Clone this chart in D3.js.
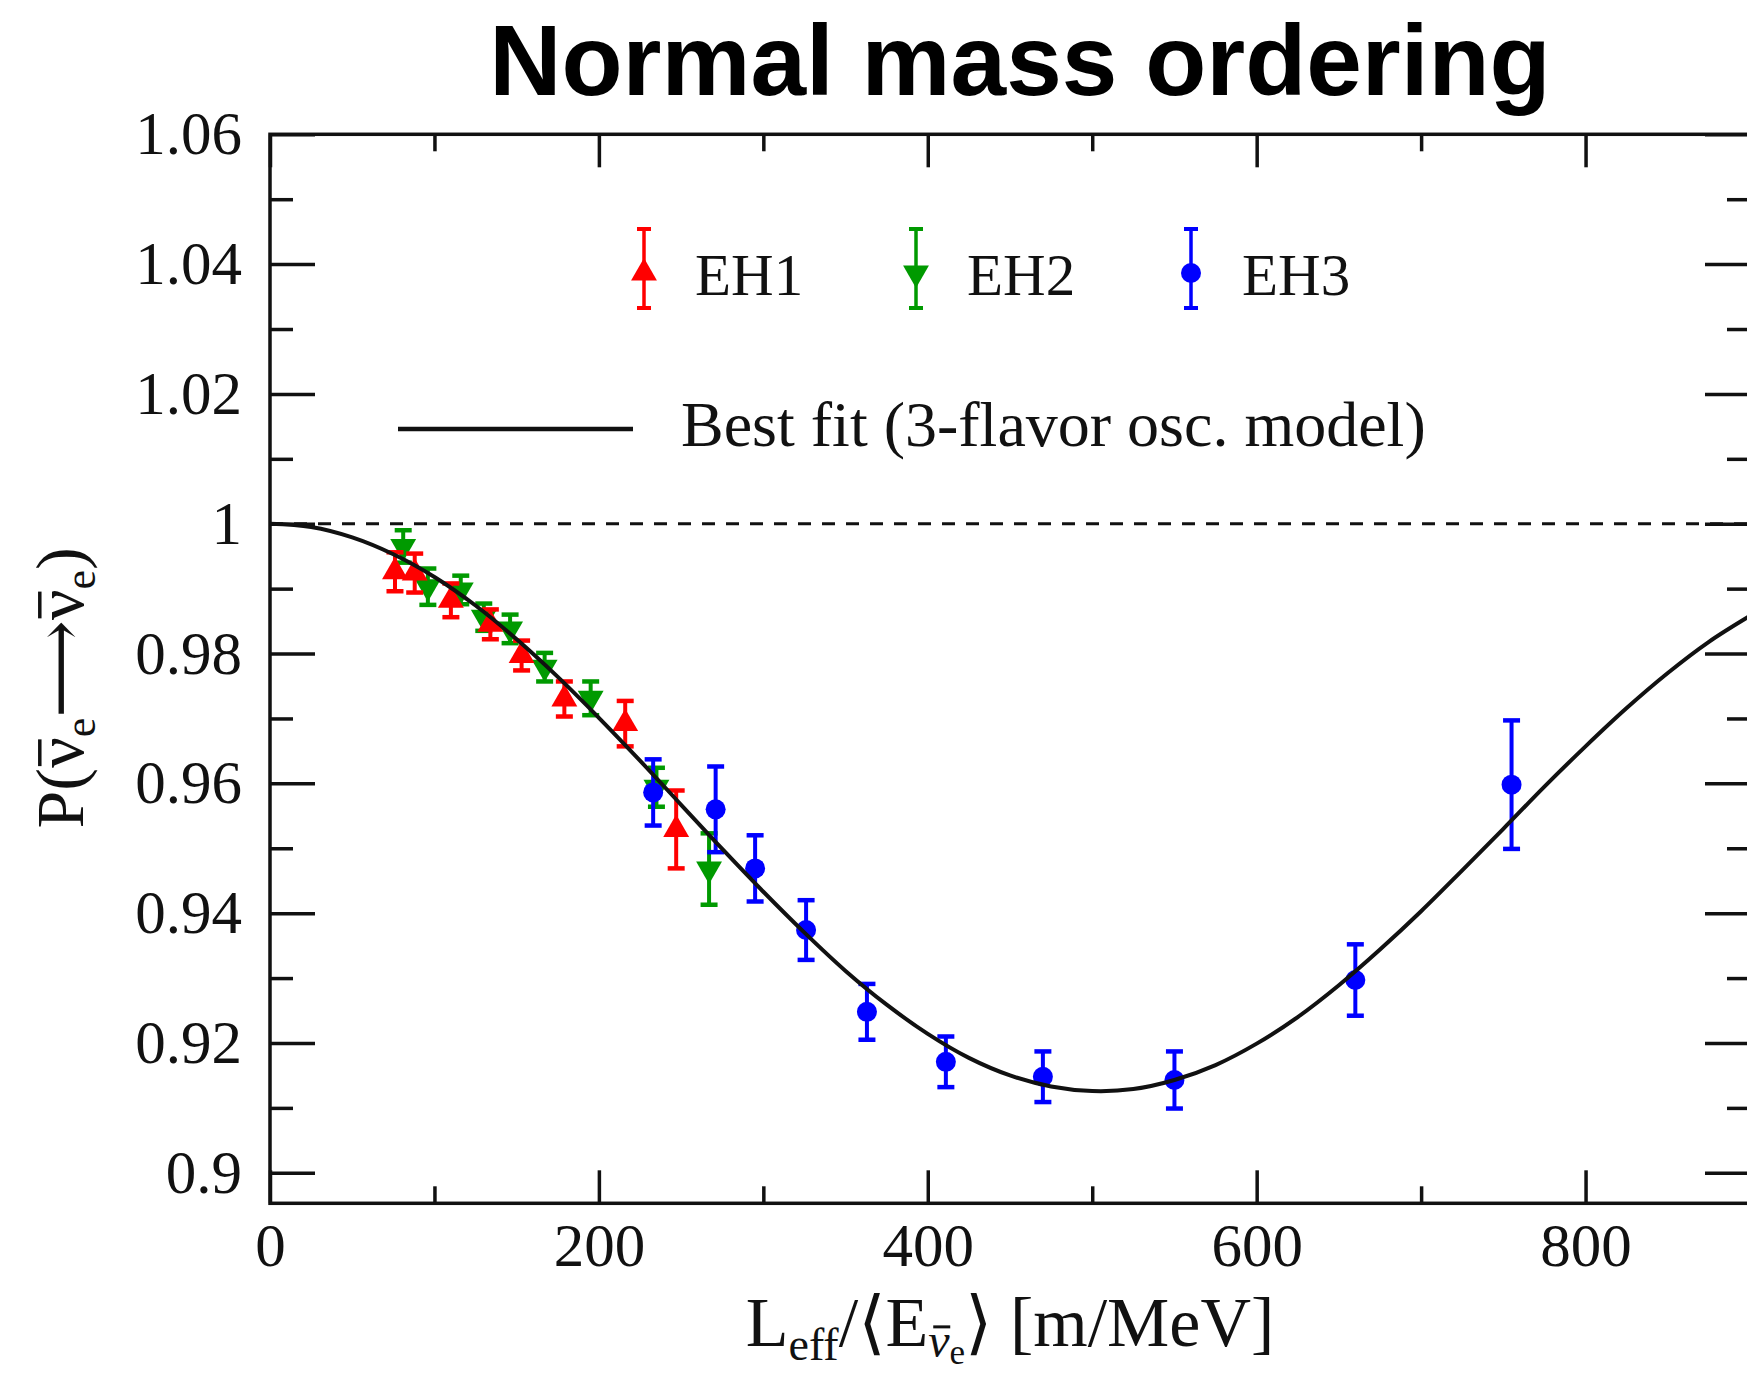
<!DOCTYPE html>
<html>
<head>
<meta charset="utf-8">
<script src="https://d3js.org/d3.v7.min.js"></script>
<style>
  body { margin: 0; background: #fff; }
  svg text { font-family: "Liberation Serif", "DejaVu Serif", serif; fill: #111; }
</style>
</head>
<body>
<script>

// EH1 (red, up triangles)
var eh1X = [76, 88, 110, 134, 153, 179, 216, 247];
var eh1Y = [0.9926, 0.9924, 0.9882, 0.9845, 0.9797, 0.9730, 0.9692, 0.9529];
var eh1Err = [0.0030, 0.0030, 0.0026, 0.0023, 0.0023, 0.0027, 0.0035, 0.0060];

// EH2 (green, down triangles)
var eh2X = [81, 96, 116, 130, 146, 167, 195, 235, 267];
var eh2Y = [0.9965, 0.9903, 0.9898, 0.9856, 0.9838, 0.9779, 0.9731, 0.9594, 0.9468];
var eh2Err = [0.0025, 0.0028, 0.0022, 0.0021, 0.0022, 0.0022, 0.0026, 0.0030, 0.0055];

// EH3 (blue, circles)
var eh3X = [233, 271, 295, 326, 363, 411, 470, 550, 660, 755];
var eh3Y = [0.9586, 0.9560, 0.9469, 0.9374, 0.9248, 0.9171, 0.9148, 0.9143, 0.9297, 0.9598];
var eh3Err = [0.0051, 0.0066, 0.0051, 0.0046, 0.0043, 0.0039, 0.0039, 0.0044, 0.0055, 0.0099];

// best fit curve
var fitX = [0, 25, 50, 75, 100, 125, 150, 175, 200, 225, 250, 275, 300, 325, 350, 375, 400, 425,
  450, 475, 500, 525, 550, 575, 600, 625, 650, 675, 700, 725, 750, 775, 800, 825, 850, 875, 900];
var fitY = [1.0000, 0.9995, 0.9979, 0.9953, 0.9918, 0.9874, 0.9822, 0.9764, 0.9701, 0.9635, 0.9567,
  0.9499, 0.9433, 0.9370, 0.9311, 0.9259, 0.9214, 0.9177, 0.9150, 0.9133, 0.9126, 0.9129, 0.9143,
  0.9166, 0.9199, 0.9240, 0.9289, 0.9344, 0.9403, 0.9466, 0.9530, 0.9595, 0.9657, 0.9716, 0.9770,
  0.9818, 0.9858];

var xMajor = [0, 200, 400, 600, 800];
var xMinor = [100, 300, 500, 700, 900];
var yMajor = [0.9, 0.92, 0.94, 0.96, 0.98, 1, 1.02, 1.04, 1.06];
var yMinor = [0.91, 0.93, 0.95, 0.97, 0.99, 1.01, 1.03, 1.05];
var yTickLabels = ["0.9", "0.92", "0.94", "0.96", "0.98", "1", "1.02", "1.04", "1.06"];

var plotL = 270, plotR = 1750, plotT = 134.3, plotB = 1203.3;

var svg = d3.select("body").append("svg")
  .attr("width", 1747)
  .attr("height", 1375);

var x = d3.scaleLinear().domain([0, 900]).range([plotL, plotR]);
var y = d3.scaleLinear().domain([0.8953, 1.06]).range([plotB, plotT]);

function styleAxis(g) {
  g.select(".domain").remove();
  g.selectAll("line").attr("stroke", "#111").attr("stroke-width", 3.5);
  g.selectAll("text").attr("font-size", 61).attr("fill", "#111")
    .attr("font-family", "Liberation Serif");
}

// ticks, all pointing inward
svg.append("g").attr("transform", "translate(0," + plotB + ")")
  .call(d3.axisBottom(x).tickValues(xMajor).tickSize(-33).tickPadding(19).tickFormat(d3.format("d")))
  .call(styleAxis);
svg.append("g").attr("transform", "translate(0," + plotB + ")")
  .call(d3.axisBottom(x).tickValues(xMinor).tickSize(-17).tickFormat(""))
  .call(styleAxis);
svg.append("g").attr("transform", "translate(0," + plotT + ")")
  .call(d3.axisTop(x).tickValues(xMajor).tickSize(-33).tickFormat(""))
  .call(styleAxis);
svg.append("g").attr("transform", "translate(0," + plotT + ")")
  .call(d3.axisTop(x).tickValues(xMinor).tickSize(-17).tickFormat(""))
  .call(styleAxis);
svg.append("g").attr("transform", "translate(" + plotL + ",0)")
  .call(d3.axisLeft(y).tickValues(yMajor).tickSize(-45).tickPadding(28)
    .tickFormat(function(d, i) { return yTickLabels[i]; }))
  .call(styleAxis);
svg.append("g").attr("transform", "translate(" + plotL + ",0)")
  .call(d3.axisLeft(y).tickValues(yMinor).tickSize(-23).tickFormat(""))
  .call(styleAxis);
svg.append("g").attr("transform", "translate(" + plotR + ",0)")
  .call(d3.axisRight(y).tickValues(yMajor).tickSize(-45).tickFormat(""))
  .call(styleAxis);
svg.append("g").attr("transform", "translate(" + plotR + ",0)")
  .call(d3.axisRight(y).tickValues(yMinor).tickSize(-23).tickFormat(""))
  .call(styleAxis);

svg.append("rect")
  .attr("x", plotL).attr("y", plotT)
  .attr("width", plotR - plotL).attr("height", plotB - plotT)
  .attr("fill", "none").attr("stroke", "#111").attr("stroke-width", 3.5);

// no-oscillation line
svg.append("line")
  .attr("x1", x(0)).attr("x2", x(900))
  .attr("y1", y(1)).attr("y2", y(1))
  .attr("stroke", "#111").attr("stroke-width", 3)
  .attr("stroke-dasharray", "13,11");

var series = [
  { name: "EH2", color: "#009a00", shape: "down", xs: eh2X, ys: eh2Y, errs: eh2Err, lx: 916 },
  { name: "EH1", color: "#ff0000", shape: "up", xs: eh1X, ys: eh1Y, errs: eh1Err, lx: 644 },
  { name: "EH3", color: "#0000ff", shape: "circle", xs: eh3X, ys: eh3Y, errs: eh3Err, lx: 1191 }
];

var tri = d3.symbol().type(d3.symbolTriangle).size(290);

function marker(g, s) {
  if (s.shape === "circle") {
    g.append("circle").attr("r", 10).attr("fill", s.color);
  } else {
    g.append("path").attr("d", tri)
      .attr("transform", s.shape === "down" ? "rotate(180)" : null)
      .attr("fill", s.color);
  }
}

series.forEach(function(s) {
  var pts = s.xs.map(function(v, i) { return { x: v, y: s.ys[i], e: s.errs[i] }; });
  var g = svg.append("g").selectAll("g").data(pts).enter().append("g");
  g.append("line")
    .attr("x1", function(d) { return x(d.x); }).attr("x2", function(d) { return x(d.x); })
    .attr("y1", function(d) { return y(d.y - d.e); }).attr("y2", function(d) { return y(d.y + d.e); })
    .attr("stroke", s.color).attr("stroke-width", 4);
  [-1, 1].forEach(function(sign) {
    g.append("line")
      .attr("x1", function(d) { return x(d.x) - 8.5; }).attr("x2", function(d) { return x(d.x) + 8.5; })
      .attr("y1", function(d) { return y(d.y + sign * d.e); }).attr("y2", function(d) { return y(d.y + sign * d.e); })
      .attr("stroke", s.color).attr("stroke-width", 4.5);
  });
  g.append("g")
    .attr("transform", function(d) { return "translate(" + x(d.x) + "," + y(d.y) + ")"; })
    .each(function() { marker(d3.select(this), s); });

  // legend entry
  var lg = svg.append("g").attr("transform", "translate(" + s.lx + ",0)");
  lg.append("line").attr("x1", 0).attr("x2", 0).attr("y1", 229).attr("y2", 308)
    .attr("stroke", s.color).attr("stroke-width", 3.5);
  lg.append("line").attr("x1", -7).attr("x2", 7).attr("y1", 229).attr("y2", 229)
    .attr("stroke", s.color).attr("stroke-width", 4);
  lg.append("line").attr("x1", -7).attr("x2", 7).attr("y1", 308).attr("y2", 308)
    .attr("stroke", s.color).attr("stroke-width", 4);
  var lm = lg.append("g").attr("transform", "translate(0,273)");
  marker(lm, s);
  lg.append("text").attr("x", 51).attr("y", 295).attr("font-size", 59).text(s.name);
});

// best fit curve
var fitPts = fitX.map(function(v, i) { return [v, fitY[i]]; });
svg.append("path")
  .datum(fitPts)
  .attr("fill", "none")
  .attr("stroke", "#111")
  .attr("stroke-width", 4)
  .attr("d", d3.line()
    .x(function(d) { return x(d[0]); })
    .y(function(d) { return y(d[1]); })
    .curve(d3.curveCatmullRom));

svg.append("line")
  .attr("x1", 398).attr("x2", 633).attr("y1", 429).attr("y2", 429)
  .attr("stroke", "#111").attr("stroke-width", 4.5);
svg.append("text").attr("x", 681).attr("y", 446).attr("font-size", 64)
  .text("Best fit (3-flavor osc. model)");

// title
svg.append("text")
  .attr("x", 1020).attr("y", 95)
  .attr("text-anchor", "middle")
  .style("font-family", "'Liberation Sans', Arial, sans-serif")
  .style("font-weight", "bold")
  .style("fill", "#000")
  .attr("font-size", 100)
  .text("Normal mass ordering");

// draws a bar over every tspan marked with class "bar"
function overbars(g, lift, inset, sw) {
  g.selectAll("tspan.bar").each(function() {
    var b = this.getBBox();
    var fs = +this.getAttribute("font-size") || 68;
    var base = b.y + b.height - 0.216 * fs;
    g.append("line")
      .attr("x1", b.x + inset[0]).attr("x2", b.x + b.width - inset[1])
      .attr("y1", base - lift * fs).attr("y2", base - lift * fs)
      .attr("stroke", "#111").attr("stroke-width", sw);
  });
}

// x axis label
var xg = svg.append("g");
var xl = xg.append("text").attr("x", 1010).attr("y", 1346)
  .attr("text-anchor", "middle").attr("font-size", 70);
xl.append("tspan").text("L");
xl.append("tspan").attr("font-size", 46).attr("dy", 14).text("eff");
xl.append("tspan").attr("dy", -14).text("/\u27E8E");
xl.append("tspan").attr("class", "bar").attr("font-size", 48).attr("dy", 11)
  .attr("font-style", "italic").text("\u03BD");
xl.append("tspan").attr("font-size", 35).attr("dy", 7).text("e");
xl.append("tspan").attr("dy", -18).text("\u27E9 [m/MeV]");
overbars(xg, 0.62, [5, 0], 3);

// y axis label
var yg = svg.append("g").attr("transform", "translate(83,688) rotate(-90)");
var yl = yg.append("text").attr("text-anchor", "middle").attr("font-size", 68);
yl.append("tspan").text("P(");
yl.append("tspan").attr("class", "bar").text("\u03BD");
yl.append("tspan").attr("font-size", 44).attr("dy", 12).text("e");
yl.append("tspan").attr("dy", -12).text("\u27F6");
yl.append("tspan").attr("class", "bar").text("\u03BD");
yl.append("tspan").attr("font-size", 44).attr("dy", 12).text("e");
yl.append("tspan").attr("dy", -12).text(")");
overbars(yg, 0.64, [2, 2], 3.5);

</script>
</body>
</html>
